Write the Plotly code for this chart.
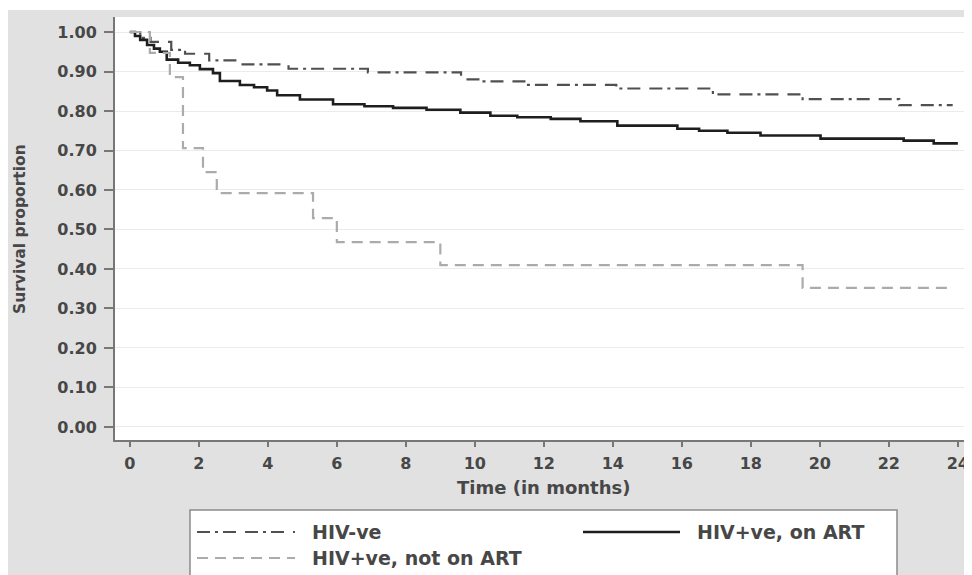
import plotly.graph_objects as go

# ---- data ----
x_ticks = list(range(0, 25, 2))
y_ticks = [round(i * 0.1, 2) for i in range(11)]

hivneg_name = "HIV-ve"
hivneg_t = [0, 0.3, 0.6, 1.2, 1.6, 2.3, 3.2, 4.6, 6.9, 9.6, 10.2, 11.5, 14.1, 16.9, 19.5, 22.3, 23.85]
hivneg_s = [1.0, 0.985, 0.975, 0.955, 0.945, 0.928, 0.918, 0.907, 0.898, 0.880, 0.875, 0.866, 0.857, 0.842, 0.830, 0.815, 0.815]

art_name = "HIV+ve, on ART"
art_t = [0, 0.15, 0.3, 0.5, 0.7, 0.87, 1.07, 1.4, 1.74, 2.03, 2.41, 2.61, 3.19, 3.6, 3.98, 4.27,
         4.93, 5.89, 6.8, 7.63, 8.6, 9.58, 10.45, 11.23, 12.2, 13.06, 14.13, 15.87, 16.5, 17.32,
         18.28, 20.02, 22.43, 23.3, 24.0]
art_s = [1.0, 0.99, 0.98, 0.967, 0.958, 0.95, 0.93, 0.922, 0.916, 0.906, 0.896, 0.876, 0.866, 0.86,
         0.852, 0.840, 0.829, 0.817, 0.812, 0.808, 0.803, 0.796, 0.788, 0.784, 0.780, 0.774, 0.763,
         0.755, 0.750, 0.745, 0.738, 0.730, 0.725, 0.718, 0.718]

noart_name = "HIV+ve, not on ART"
noart_t = [0, 0.58, 1.16, 1.54, 2.12, 2.52, 5.31, 6.0, 9.0, 19.5, 23.7]
noart_s = [1.0, 0.947, 0.886, 0.706, 0.645, 0.592, 0.529, 0.468, 0.41, 0.352, 0.352]

x_title = "Time (in months)"
y_title = "Survival proportion"

# ---- styles ----
FONT = "DejaVu Sans"
TXT = "#474747"
DASHDOT = "13px,5px,3px,5px,13px,9px"
styles = {
    hivneg_name: dict(color="#505050", width=2.2, dash=DASHDOT),
    art_name: dict(color="#1e1e1e", width=2.6, dash="solid"),
    noart_name: dict(color="#ababab", width=2.2, dash="11px,7px"),
}

fig = go.Figure()
for name, t, s in [(hivneg_name, hivneg_t, hivneg_s),
                   (art_name, art_t, art_s),
                   (noart_name, noart_t, noart_s)]:
    fig.add_trace(go.Scatter(x=t, y=s, mode="lines", name=name, line_shape="hv",
                             line=styles[name], showlegend=False))

# page has an 8px body margin: figure origin sits at screen (8, 8)
OFF = 8
FW, FH = 972 - OFF, 575 - OFF
# plot area in screen pixels: x 115..972, y 17..440
L, R, T, B = 115 - OFF, 972 - OFF, 17 - OFF, 440 - OFF
W, H = R - L, B - T
def px(x):
    return (x - OFF - L) / W
def py(y):
    return (B - (y - OFF)) / H

shapes = [
    # thin white strip at the very top
    dict(type="rect", xref="paper", yref="paper", x0=-0.3, x1=1.2, y0=py(10), y1=1.3,
         fillcolor="white", line=dict(width=0)),
    # legend box
    dict(type="rect", xref="paper", yref="paper", x0=px(190), x1=px(897), y0=py(510), y1=py(600),
         fillcolor="white", line=dict(color="#8a8a8a", width=1.5)),
]
annotations = [
    dict(text=x_title, xref="paper", yref="paper", x=px(543), y=py(487), showarrow=False,
         font=dict(family=FONT, size=18, color=TXT, weight="bold"), xanchor="center", yanchor="middle"),
    dict(text=y_title, xref="paper", yref="paper", x=px(20), y=py(229), showarrow=False,
         textangle=-90, font=dict(family=FONT, size=15.5, color=TXT, weight="bold"),
         xanchor="center", yanchor="middle"),
]
legend_items = [
    (hivneg_name, 197, 295, 310, 532),
    (noart_name, 197, 295, 310, 558),
    (art_name, 583, 680, 695, 532),
]
for name, lx0, lx1, tx, ly in legend_items:
    st = styles[name]
    shapes.append(dict(type="line", xref="paper", yref="paper", x0=px(lx0), x1=px(lx1),
                       y0=py(ly), y1=py(ly), line=dict(color=st["color"], width=st["width"],
                                                      dash=st["dash"])))
    annotations.append(dict(text=name, xref="paper", yref="paper", x=px(tx), y=py(ly),
                            showarrow=False, xanchor="left", yanchor="middle",
                            font=dict(family=FONT, size=19, color=TXT, weight="bold")))

fig.update_layout(
    width=FW, height=FH,
    margin=dict(l=L, r=FW - R, t=T, b=FH - B),
    paper_bgcolor="#e1e1e1", plot_bgcolor="white",
    font=dict(family=FONT, color=TXT),
    shapes=shapes, annotations=annotations,
)
tickfont = dict(family=FONT, size=16, color=TXT, weight="bold")
fig.update_xaxes(range=[-0.43, 24.41], tickvals=x_ticks, ticks="outside", ticklen=5,
                 tickcolor="#777", tickwidth=1.5, showline=True, linecolor="#777", linewidth=2,
                 showgrid=False, zeroline=False, tickfont=tickfont, ticklabelstandoff=3)
fig.update_yaxes(range=[-0.033, 1.038], tickvals=y_ticks, tickformat=".2f", ticks="outside",
                 ticklen=9, tickcolor="#777", tickwidth=1.5, showline=True, linecolor="#777",
                 linewidth=2, showgrid=True, gridcolor="#ebebeb", gridwidth=1, zeroline=False,
                 tickfont=tickfont, ticklabelstandoff=4)

fig.write_html("out.html")
